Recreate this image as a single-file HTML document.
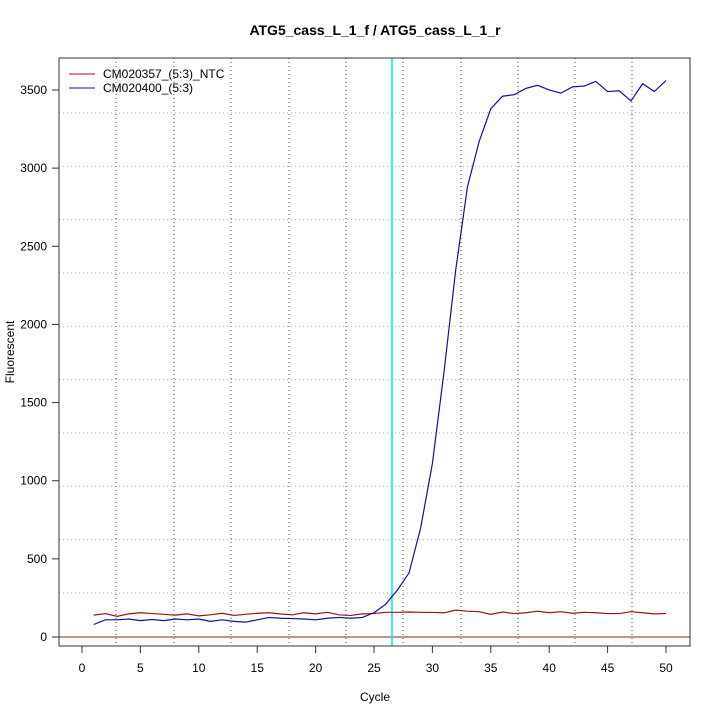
<!DOCTYPE html>
<html><head><meta charset="utf-8"><style>
html,body{margin:0;padding:0;background:#fff;}
svg text{font-family:"Liberation Sans",sans-serif;}
</style></head><body>
<svg id="s" width="720" height="720" viewBox="0 0 720 720" xmlns="http://www.w3.org/2000/svg">
<rect width="720" height="720" fill="#fff"/>
<text x="375" y="35" text-anchor="middle" font-size="14" font-weight="bold">ATG5_cass_L_1_f / ATG5_cass_L_1_r</text>
<g id="grid" stroke="#444" stroke-width="1" stroke-dasharray="1,3"></g>
<line x1="59" y1="637" x2="690" y2="637" stroke="#902020" stroke-width="1"/>
<line x1="392" y1="58" x2="392" y2="646" stroke="#00eeee" stroke-width="1.6"/>
<polyline id="red" fill="none" stroke="#a01010" stroke-width="1.2"/>
<polyline id="blue" fill="none" stroke="#1010a0" stroke-width="1.2"/>
<rect x="59" y="58" width="631" height="588" fill="none" stroke="#333" stroke-width="1"/>
<g id="ax" font-size="12"></g>
<line x1="69" y1="74" x2="95" y2="74" stroke="#a01010"/>
<line x1="69" y1="88" x2="95" y2="88" stroke="#1010a0"/>
<text x="103" y="78" font-size="12">CM020357_(5:3)_NTC</text>
<text x="103" y="92" font-size="12">CM020400_(5:3)</text>
<text x="375" y="701" text-anchor="middle" font-size="12">Cycle</text>
<text transform="translate(14,352) rotate(-90)" text-anchor="middle" font-size="12">Fluorescent</text>
</svg>
<script>
var X=c=>82+11.68*c, Y=v=>637-v*0.15629;
var g=document.getElementById('grid'),ax=document.getElementById('ax'),h='',a='';
[116,174,231,289,346,403,461,518,575,632].forEach(x=>h+=`<line x1="${x}" y1="58" x2="${x}" y2="646"/>`);
for(var k=0;k<10;k++){var y=113+53.33*k;h+=`<line x1="59" y1="${y}" x2="690" y2="${y}" stroke="#aaa"/>`;}
g.innerHTML=h;
for(var c=0;c<=50;c+=5){a+=`<line x1="${X(c)}" y1="646" x2="${X(c)}" y2="653" stroke="#333"/><text x="${X(c)}" y="672" text-anchor="middle">${c}</text>`;}
for(var v=0;v<=3500;v+=500){a+=`<line x1="52" y1="${Y(v)}" x2="59" y2="${Y(v)}" stroke="#333"/><text x="47" y="${Y(v)+4}" text-anchor="end">${v}</text>`;}
ax.innerHTML=a;
var b=[80,110,110,115,105,112,105,115,110,115,100,110,100,95,110,125,120,118,115,110,120,125,120,125,155,210,300,410,700,1110,1700,2350,2880,3170,3380,3460,3470,3510,3530,3500,3480,3520,3525,3555,3490,3495,3430,3540,3490,3560];
var r=[140,150,132,148,155,150,145,140,148,135,142,152,138,145,152,155,147,142,155,148,158,142,138,148,150,158,158,160,158,157,155,172,165,162,145,160,150,155,165,155,162,152,158,155,150,150,162,155,148,150];
document.getElementById('blue').setAttribute('points',b.map((v,i)=>X(i+1)+','+Y(v)).join(' '));
document.getElementById('red').setAttribute('points',r.map((v,i)=>X(i+1)+','+Y(v)).join(' '));
</script>
</body></html>
